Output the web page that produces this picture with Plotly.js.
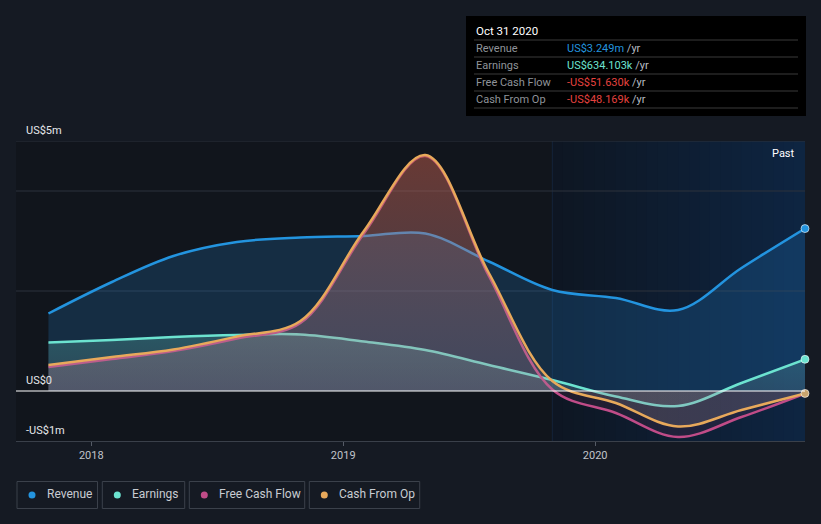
<!DOCTYPE html>
<html>
<head>
<meta charset="utf-8">
<script src="https://cdn.plot.ly/plotly-3.0.1.min.js"></script>
<style>
html,body{margin:0;padding:0;background:#151a23;}
#chart{width:821px;height:524px;}
</style>
</head>
<body>
<div id="chart"></div>
<script>
// ---- data ----
const dates = ['2017-10-31','2018-01-31','2018-04-30','2018-07-31','2018-10-31','2019-01-31','2019-04-30','2019-07-31','2019-10-31','2020-01-31','2020-04-30','2020-07-31','2020-10-31'];
const seriesNames = ['Revenue','Earnings','Free Cash Flow','Cash From Op'];
const revenue   = [1.55, 2.18, 2.70, 2.98, 3.07, 3.10, 3.15, 2.59, 2.02, 1.86, 1.62, 2.46, 3.249];
const earnings  = [0.97, 1.02, 1.08, 1.12, 1.13, 0.99, 0.82, 0.52, 0.22, -0.11, -0.30, 0.16, 0.634];
const freeCash  = [0.48, 0.64, 0.80, 1.05, 1.36, 3.15, 4.70, 2.30, 0.03, -0.44, -0.92, -0.52, -0.0516];
const cashOp    = [0.52, 0.68, 0.83, 1.09, 1.40, 3.20, 4.72, 2.36, 0.20, -0.24, -0.71, -0.38, -0.0482];
const yTickVals = [5, 0, -1];
const yTickText = ['US$5m', 'US$0', '-US$1m'];
const xTickVals = ['2018-01-01','2019-01-01','2020-01-01'];
const xTickText = ['2018','2019','2020'];
const tipTitle = 'Oct 31 2020';
const tipValues = ['US$3.249m','US$634.103k','-US$51.630k','-US$48.169k'];
const pastStart = '2019-10-31';
const xRange = ['2017-09-14','2020-10-31'];

// ---- styles ----
const lineColors = ['#2394df','#6ce3d0','#c04c88','#e8a95b'];
const tipColors = ['#2394df','#6ce3d0','#e5423f','#e5423f'];
const allSeries = [revenue, earnings, freeCash, cashOp];

const L=16, R=805, T=141, B=441;
const px = x => (x - L) / (R - L);
const py = y => (B - y) / (B - T);

const fillSpecs = [
  {fillcolor:'rgba(35,130,210,0.22)'},
  {fillgradient:{type:'vertical', start:0, stop:1.2, colorscale:[[0,'rgba(120,150,150,0.22)'],[1,'rgba(108,227,208,0.24)']]}},
  {fillcolor:'rgba(192,76,136,0.10)'},
  {fillgradient:{type:'vertical', start:0, stop:4.7, colorscale:[[0,'rgba(170,160,165,0.20)'],[1,'rgba(200,100,70,0.42)']]}}
];

const traces = allSeries.map((s,i)=>Object.assign({
  type:'scatter', mode:'lines', x:dates, y:s, name:seriesNames[i],
  line:{color:lineColors[i], width:2.5, shape:'spline', smoothing:1},
  fill:'tozeroy', hoverinfo:'skip', showlegend:false
}, fillSpecs[i]));
// end markers
[0,1,3].forEach(i=>{
  traces.push({type:'scatter', mode:'markers', x:[dates[dates.length-1]], y:[allSeries[i][allSeries[i].length-1]],
    marker:{size:8, color: i===3 ? '#c9a46e' : lineColors[i], line:{color:'rgba(255,255,255,0.6)', width:1}},
    hoverinfo:'skip', showlegend:false, cliponaxis:false});
});

const shapes = [];
const annotations = [];
// past region gradient
const nStrips = 24;
const c0=[14,22,34], c1=[14,37,66];
const t0 = new Date(pastStart).getTime(), t1 = new Date(xRange[1]).getTime();
for(let k=0;k<nStrips;k++){
  const a=k/nStrips, b=(k+1)/nStrips, m=(a+b)/2;
  const c=c0.map((v,j)=>Math.round(v+(c1[j]-v)*m));
  shapes.push({type:'rect', xref:'x', yref:'paper', layer:'below',
    x0:new Date(t0+(t1-t0)*a).toISOString().slice(0,10),
    x1:new Date(t0+(t1-t0)*b + 86400000).toISOString().slice(0,10),
    y0:0, y1:1, fillcolor:`rgb(${c[0]},${c[1]},${c[2]})`, line:{width:0}});
}
shapes.push({type:'line', xref:'x', yref:'paper', x0:pastStart, x1:pastStart, y0:0, y1:1, layer:'below', line:{color:'rgba(25,45,75,0.6)', width:1}});
// gridlines
[5,4,2].forEach(v=>shapes.push({type:'line', xref:'paper', yref:'y', x0:0, x1:1, y0:v, y1:v, layer:'below', line:{color:'#2c323d', width:1}}));
// zero line
shapes.push({type:'line', xref:'paper', yref:'y', x0:0, x1:1, y0:0, y1:0, layer:'above', line:{color:'#ffffff', width:1.2}});

// y labels
yTickVals.forEach((v,i)=>annotations.push({xref:'paper', yref:'y', x:px(24), y:v, yshift:11, text:yTickText[i], showarrow:false, xanchor:'left', yanchor:'middle', font:{size:11, color:'#e6e8eb'}}));
// Past label
annotations.push({xref:'paper', yref:'paper', x:px(797), y:py(153), text:'Past', showarrow:false, xanchor:'right', yanchor:'middle', font:{size:11, color:'#ffffff'}});

// tooltip box
shapes.push({type:'rect', xref:'paper', yref:'paper', x0:px(466), x1:px(806), y0:py(16), y1:py(116), fillcolor:'#000000', line:{width:0}, layer:'above'});
annotations.push({xref:'paper', yref:'paper', x:px(474), y:py(31), text:tipTitle, showarrow:false, xanchor:'left', yanchor:'middle', font:{size:11.5, color:'#ffffff', family:'Roboto'}});
const sepY=[40,57,74,91,108];
sepY.forEach(y=>shapes.push({type:'line', xref:'paper', yref:'paper', x0:px(474), x1:px(798), y0:py(y), y1:py(y), line:{color:'#3a3a3a', width:1}, layer:'above'}));
seriesNames.forEach((n,i)=>{
  const y = 48.5 + i*17;
  annotations.push({xref:'paper', yref:'paper', x:px(474), y:py(y), text:n, showarrow:false, xanchor:'left', yanchor:'middle', font:{size:11, color:'#8f9399'}});
  annotations.push({xref:'paper', yref:'paper', x:px(565), y:py(y), text:`<span style="color:${tipColors[i]}">${tipValues[i]}</span> <span style="color:#b8bcc2">/yr</span>`, showarrow:false, xanchor:'left', yanchor:'middle', font:{size:11}});
});

// legend boxes
const boxes=[[17,97.5],[102.3,184.7],[189.3,304.7],[309.3,419.7]];
boxes.forEach((bx,i)=>{
  shapes.push({type:'rect', xref:'paper', yref:'paper', x0:px(bx[0]), x1:px(bx[1]), y0:py(481.5), y1:py(508.5), line:{color:'#3b414b', width:1}, fillcolor:'rgba(0,0,0,0)'});
  shapes.push({type:'circle', xref:'paper', yref:'paper', x0:px(bx[0]+11.5), x1:px(bx[0]+18.5), y0:py(498.5), y1:py(491.5), line:{width:0}, fillcolor:lineColors[i]});
  annotations.push({xref:'paper', yref:'paper', x:px(bx[0]+27.5), y:py(494.5), text:seriesNames[i], showarrow:false, xanchor:'left', yanchor:'middle', font:{size:12, color:'#c8ccd2'}});
});

const layout = {
  width:821, height:524,
  margin:{l:L, r:821-R, t:T, b:524-B, pad:0},
  paper_bgcolor:'#151a23', plot_bgcolor:'#11151c',
  font:{family:'Roboto, "Open Sans", sans-serif', color:'#c8ccd2'},
  showlegend:false,
  xaxis:{type:'date', range:xRange, tickvals:xTickVals, ticktext:xTickText, showgrid:false, zeroline:false,
    showline:true, linecolor:'#3a404a', linewidth:1, ticks:'outside', ticklen:4, tickcolor:'#555b66',
    tickfont:{size:11, color:'#c0c4ca'}, fixedrange:true},
  yaxis:{range:[-1,5], showgrid:false, zeroline:false, showticklabels:false, fixedrange:true},
  shapes, annotations, hovermode:false
};
Plotly.newPlot('chart', traces, layout, {displayModeBar:false, staticPlot:true});
</script>
</body>
</html>
